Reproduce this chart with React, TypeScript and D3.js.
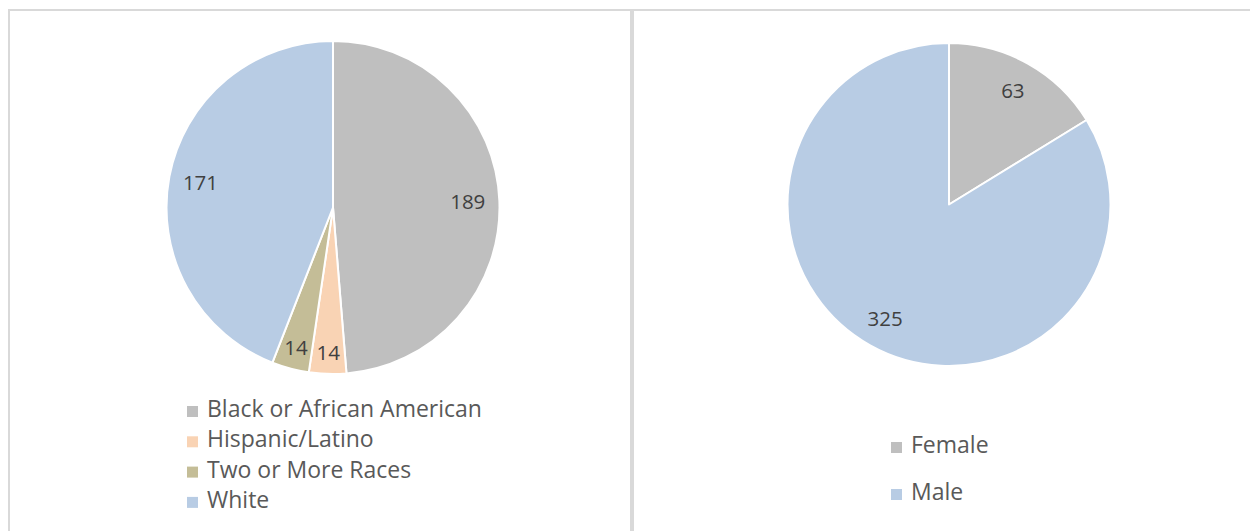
import React from "react";
import * as d3 from "d3";

const raceCategories = ["Black or African American", "Hispanic/Latino", "Two or More Races", "White"];
const raceValues = [189, 14, 14, 171];
const raceColors = ["#BFBFBF", "#F9D3B4", "#C4BD97", "#B8CCE4"];

const genderCategories = ["Female", "Male"];
const genderValues = [63, 325];
const genderColors = ["#BFBFBF", "#B8CCE4"];

const FONT = "'Open Sans', Lato, sans-serif";

type PieProps = {
  cx: number;
  cy: number;
  r: number;
  values: number[];
  colors: string[];
};

function Pie({ cx, cy, r, values, colors }: PieProps) {
  const total = d3.sum(values);
  const pie = d3.pie<number>().sort(null).value((d) => d);
  const arcs = pie(values);
  const arc = d3.arc<d3.PieArcDatum<number>>().innerRadius(0).outerRadius(r);
  return (
    <g transform={`translate(${cx},${cy})`}>
      {arcs.map((a, i) => (
        <path key={i} d={arc(a) || ""} fill={colors[i]} stroke="#ffffff" strokeWidth={2} strokeLinejoin="round" />
      ))}
      {arcs.map((a, i) => {
        const frac = a.value / total < 0.06 ? 0.87 : 0.81;
        const la = d3.arc<d3.PieArcDatum<number>>().innerRadius(r * frac).outerRadius(r * frac);
        const [x, y] = la.centroid(a);
        return (
          <text key={"t" + i} x={x} y={y} dy="0.36em" textAnchor="middle" fontFamily={FONT} fontSize={20.5} fill="#404040">
            {a.value}
          </text>
        );
      })}
    </g>
  );
}

type LegendProps = {
  x: number;
  y: number;
  step: number;
  items: string[];
  colors: string[];
};

function Legend({ x, y, step, items, colors }: LegendProps) {
  return (
    <g>
      {items.map((name, i) => (
        <g key={name} transform={`translate(${x},${y + i * step})`}>
          <rect x={0} y={-11} width={11} height={11} fill={colors[i]} />
          <text x={20} y={0} fontFamily={FONT} fontSize={23} fill="#595959">
            {name}
          </text>
        </g>
      ))}
    </g>
  );
}

export default function App() {
  return (
    <div style={{ position: "absolute", left: 0, top: 0 }}>
      <svg width={1250} height={531} style={{ display: "block", background: "#ffffff" }}>
        <rect x={9} y={10} width={622} height={560} fill="none" stroke="#D9D9D9" strokeWidth={2} />
        <rect x={633} y={10} width={660} height={560} fill="none" stroke="#D9D9D9" strokeWidth={2} />
        <Pie cx={333} cy={207.5} r={166.5} values={raceValues} colors={raceColors} />
        <Legend x={187} y={417} step={30.3} items={raceCategories} colors={raceColors} />
        <Pie cx={949} cy={204.5} r={161.5} values={genderValues} colors={genderColors} />
        <Legend x={891} y={453} step={47} items={genderCategories} colors={genderColors} />
      </svg>
    </div>
  );
}
